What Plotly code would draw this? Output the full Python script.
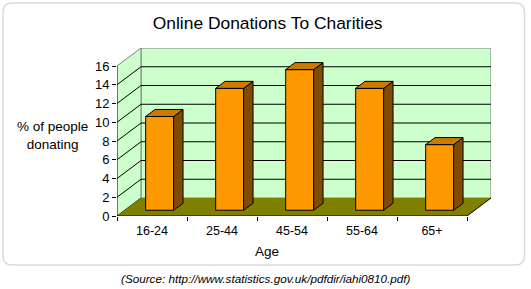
import plotly.graph_objects as go

# ---- data ----
categories = ["16-24", "25-44", "45-54", "55-64", "65+"]
values = [10, 13, 15, 13, 7]
y_ticks = [0, 2, 4, 6, 8, 10, 12, 14, 16]
y_max = 16

title = "Online Donations To Charities"
y_title = "% of people<br>donating"
x_title = "Age"
source = "(Source: http://www.statistics.gov.uk/pdfdir/iahi0810.pdf)"

# ---- geometry (layout) ----
W, H = 531, 289
ML, MR, MT, MB = 117, 40, 48, 73
plot_w = W - ML - MR
plot_h = H - MT - MB
n = len(categories)
px_per_x = 70.0
px_per_y = 9.375
x0, x1 = -0.5, n - 0.5
dxu = plot_w / px_per_x - n          # depth offset in x units
yr_top = plot_h / px_per_y
dyu = yr_top - y_max                 # depth offset in y units
f1, f2 = 0.32, 0.71                  # bar depth position (front/back)
bw = 0.4

FONT = "Arial, Liberation Sans, sans-serif"
ORANGE = "#FF9900"
TOP = "#CC7A00"
SIDE = "#7F4C00"
WALL = "#CCFFCC"
FLOOR = "#808000"
GRAY = "#808080"


def px2paper(px, py):
    return (px - ML) / plot_w, (H - MB - py) / plot_h


shapes = []
# back wall
shapes.append(dict(type="rect", xref="x", yref="y", layer="below",
                   x0=x0 + dxu, x1=x1 + dxu, y0=dyu, y1=y_max + dyu,
                   fillcolor=WALL, line=dict(color=GRAY, width=1)))
# left wall
shapes.append(dict(type="path", xref="x", yref="y", layer="below",
                   path=f"M{x0},0 L{x0},{y_max} L{x0+dxu},{y_max+dyu} L{x0+dxu},{dyu} Z",
                   fillcolor=WALL, line=dict(width=0)))
shapes.append(dict(type="line", xref="x", yref="y", layer="below",
                   x0=x0, y0=y_max, x1=x0 + dxu, y1=y_max + dyu,
                   line=dict(color=GRAY, width=1)))
shapes.append(dict(type="line", xref="x", yref="y", layer="below",
                   x0=x0 + dxu, y0=dyu, x1=x0 + dxu, y1=y_max + dyu,
                   line=dict(color=GRAY, width=1)))
# gridlines
for v in y_ticks[1:-1]:
    shapes.append(dict(type="line", xref="x", yref="y", layer="below",
                       x0=x0 + dxu, x1=x1 + dxu, y0=v + dyu, y1=v + dyu,
                       line=dict(color="black", width=1)))
for v in y_ticks[:-1]:
    shapes.append(dict(type="line", xref="x", yref="y", layer="below",
                       x0=x0, x1=x0 + dxu, y0=v, y1=v + dyu,
                       line=dict(color="black", width=1)))
# floor
shapes.append(dict(type="path", xref="x", yref="y", layer="below",
                   path=f"M{x0},0 L{x1},0 L{x1+dxu},{dyu} L{x0+dxu},{dyu} Z",
                   fillcolor=FLOOR, line=dict(width=0)))
shapes.append(dict(type="line", xref="x", yref="y", layer="below",
                   x0=x1, y0=0, x1=x1 + dxu, y1=dyu,
                   line=dict(color="black", width=1)))
shapes.append(dict(type="line", xref="x", yref="y", layer="below",
                   x0=x0, y0=0, x1=x1, y1=0,
                   line=dict(color="black", width=1)))
# y axis line
shapes.append(dict(type="line", xref="x", yref="y", layer="below",
                   x0=x0, y0=0, x1=x0, y1=y_max,
                   line=dict(color="black", width=1)))

# frame (rounded rect)
fx0, fy0 = px2paper(3, 3)
fx1, fy1 = px2paper(524.5, 265)
rx = 9 / plot_w
ry = 9 / plot_h
frame_path = (f"M{fx0+rx},{fy0} L{fx1-rx},{fy0} Q{fx1},{fy0} {fx1},{fy0-ry} "
              f"L{fx1},{fy1+ry} Q{fx1},{fy1} {fx1-rx},{fy1} L{fx0+rx},{fy1} "
              f"Q{fx0},{fy1} {fx0},{fy1+ry} L{fx0},{fy0-ry} Q{fx0},{fy0} {fx0+rx},{fy0} Z")
shapes.append(dict(type="path", xref="paper", yref="paper", layer="below",
                   path=frame_path, line=dict(color="#D9D9D9", width=1.5)))

fig = go.Figure()

xs = [i + f1 * dxu for i in range(n)]
base_y = f1 * dyu
fig.add_trace(go.Bar(x=xs, y=values, base=[base_y] * n, width=bw,
                     marker=dict(color=ORANGE, line=dict(color="black", width=1)),
                     hoverinfo="skip", showlegend=False))

ddx = (f2 - f1) * dxu
ddy = (f2 - f1) * dyu
tx, ty, sx, sy = [], [], [], []
for xc, v in zip(xs, values):
    xl, xr = xc - bw / 2, xc + bw / 2
    yb, yt = base_y, base_y + v
    tx += [xl, xr, xr + ddx, xl + ddx, xl, None]
    ty += [yt, yt, yt + ddy, yt + ddy, yt, None]
    sx += [xr, xr + ddx, xr + ddx, xr, xr, None]
    sy += [yb, yb + ddy, yt + ddy, yt, yb, None]
fig.add_trace(go.Scatter(x=sx, y=sy, mode="lines", fill="toself", fillcolor=SIDE,
                         line=dict(color="black", width=1), hoverinfo="skip", showlegend=False))
fig.add_trace(go.Scatter(x=tx, y=ty, mode="lines", fill="toself", fillcolor=TOP,
                         line=dict(color="black", width=1), hoverinfo="skip", showlegend=False))

ax_ = dict(annotations=[])
yx, yy = px2paper(52, 135.5)
ax_x, ax_y = px2paper(267, 251.5)
sx_, sy_ = px2paper(265.5, 278)
annotations = [
    dict(text=y_title, x=yx, y=yy, xref="paper", yref="paper", showarrow=False,
         xanchor="center", yanchor="middle", font=dict(family=FONT, size=13.5, color="black")),
    dict(text=x_title, x=ax_x, y=ax_y, xref="paper", yref="paper", showarrow=False,
         xanchor="center", yanchor="middle", font=dict(family=FONT, size=13.5, color="black")),
    dict(text=f"<i>{source}</i>", x=sx_, y=sy_, xref="paper", yref="paper", showarrow=False,
         xanchor="center", yanchor="middle", font=dict(family=FONT, size=11.7, color="black")),
]

fig.update_layout(
    width=W, height=H,
    margin=dict(l=ML, r=MR, t=MT, b=MB, pad=0),
    paper_bgcolor="white", plot_bgcolor="white",
    title=dict(text=title, x=267.7 / W, y=1 - 22.7 / H, xref="container", yref="container",
               xanchor="center", yanchor="middle",
               font=dict(family=FONT, size=17.4, color="black")),
    xaxis=dict(range=[x0, x1 + dxu], tickmode="array", tickvals=list(range(n)),
               ticktext=categories, ticks="", showgrid=False, zeroline=False, showline=False,
               tickfont=dict(family=FONT, size=12.5, color="black"), ticklabelstandoff=5,
               minor=dict(tickmode="linear", tick0=x0, dtick=1, ticks="outside",
                          ticklen=4, tickcolor="black", tickwidth=1, showgrid=False)),
    yaxis=dict(range=[0, yr_top], tickmode="array", tickvals=y_ticks, ticks="outside",
               ticklen=4, tickcolor="black", showgrid=False, zeroline=False, showline=False,
               tickfont=dict(family=FONT, size=13, color="black")),
    shapes=shapes, annotations=annotations, barmode="overlay", showlegend=False,
)

fig.write_html("out.html")
